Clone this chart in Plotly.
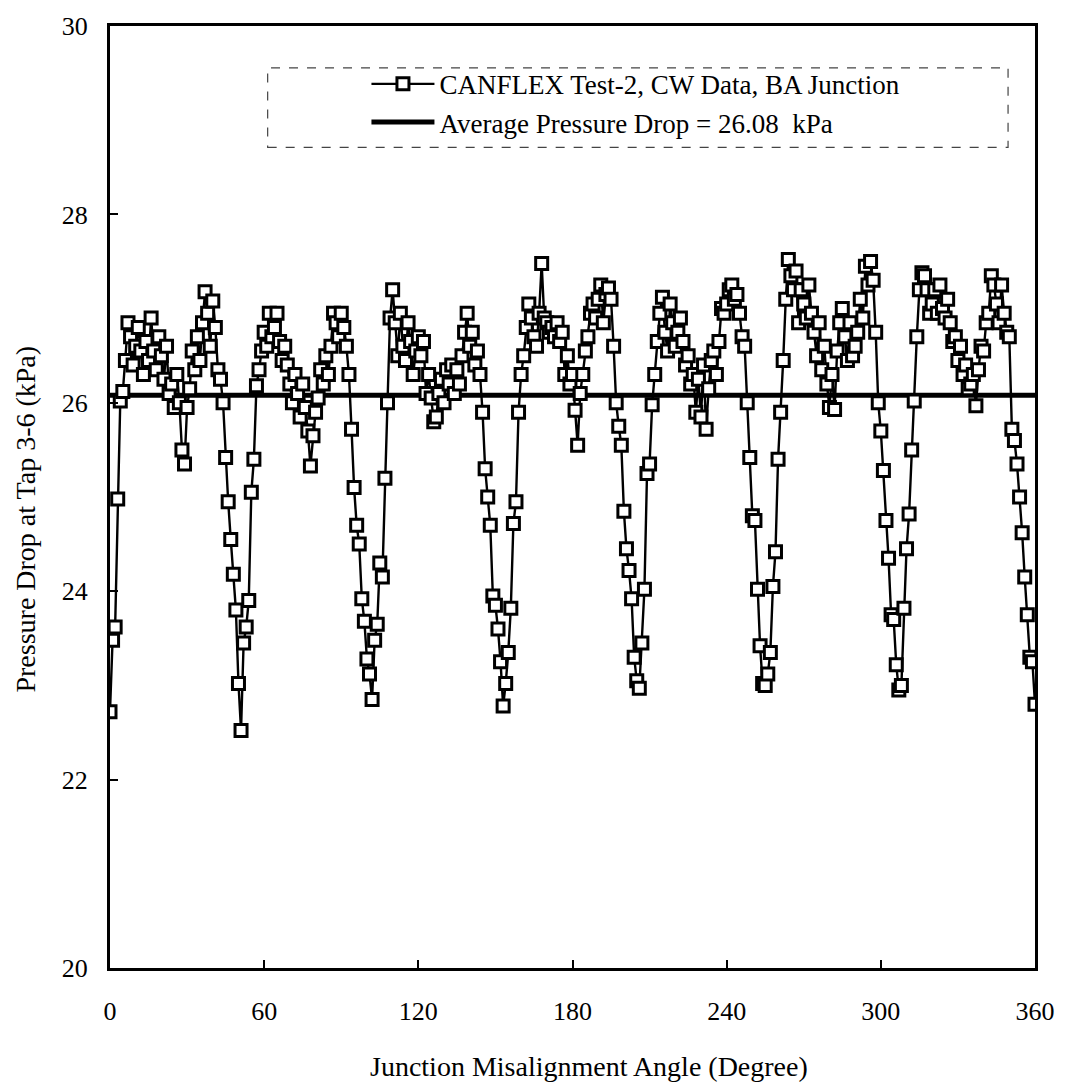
import plotly.graph_objects as go

# Junction misalignment angle, sampled every degree over one full turn
ANGLE_DEG = list(range(0, 361))

# Measured pressure drop at tap 3-6 (kPa), CANFLEX Test-2, CW data, BA junction
PRESSURE_KPA = [
    22.72, 23.48, 23.62, 24.98, 26.02, 26.12, 26.45, 26.85, 26.70, 26.40,
    26.60, 26.80, 26.55, 26.30, 26.65, 26.45, 26.90, 26.55, 26.35, 26.70,
    26.50, 26.25, 26.60, 26.10, 26.20, 25.95, 26.30, 26.00, 25.50, 25.35,
    25.95, 26.15, 26.55, 26.35, 26.70, 26.45, 26.85, 27.18, 26.95, 26.60,
    27.08, 26.80, 26.35, 26.25, 26.00, 25.42, 24.95, 24.55, 24.18, 23.80,
    23.02, 22.52, 23.45, 23.62, 23.90, 25.05, 25.40, 26.18, 26.35, 26.55,
    26.75, 26.60, 26.95, 26.70, 26.80, 26.95, 26.65, 26.45, 26.60, 26.40,
    26.20, 26.00, 26.30, 26.10, 25.85, 26.20, 25.95, 25.70, 25.33, 25.65,
    25.90, 26.05, 26.35, 26.20, 26.50, 26.30, 26.60, 26.95, 26.85, 26.70,
    26.95, 26.80, 26.60, 26.30, 25.72, 25.10, 24.70, 24.50, 23.92, 23.68,
    23.28, 23.12, 22.85, 23.48, 23.65, 24.30, 24.15, 25.20, 26.00, 26.90,
    27.20, 26.85, 26.50, 26.95, 26.60, 26.45, 26.85, 26.65, 26.30, 26.55,
    26.70, 26.50, 26.65, 26.10, 26.30, 26.05, 25.80, 25.85, 26.10, 26.25,
    26.00, 26.35, 26.20, 26.40, 26.10, 26.35, 26.20, 26.50, 26.75, 26.95,
    26.60, 26.75, 26.40, 26.55, 26.30, 25.90, 25.30, 25.00, 24.70, 23.95,
    23.85, 23.60, 23.25, 22.78, 23.02, 23.35, 23.82, 24.72, 24.95, 25.90,
    26.30, 26.50, 26.80, 27.05, 26.90, 26.70, 26.60, 26.95, 27.48, 26.90,
    26.85, 26.75, 26.80, 26.70, 26.85, 26.65, 26.75, 26.30, 26.50, 26.20,
    26.30, 25.92, 25.55, 26.10, 26.30, 26.55, 26.70, 26.95, 27.05, 26.90,
    27.10, 27.25, 26.85, 27.15, 27.22, 27.10, 26.60, 26.00, 25.75, 25.55,
    24.85, 24.45, 24.22, 23.92, 23.30, 23.05, 22.97, 23.45, 24.02, 25.25,
    25.35, 25.98, 26.30, 26.65, 26.95, 27.12, 26.75, 26.55, 27.05, 26.85,
    26.60, 26.75, 26.90, 26.65, 26.40, 26.50, 26.20, 26.30, 25.90, 26.25,
    25.85, 26.40, 25.72, 26.15, 26.45, 26.55, 26.30, 26.65, 27.00, 26.95,
    27.05, 27.20, 27.25, 27.10, 27.15, 26.95, 26.70, 26.60, 26.00, 25.42,
    24.80, 24.75, 24.02, 23.42, 23.02, 23.00, 23.12, 23.35, 24.05, 24.42,
    25.40, 25.90, 26.45, 27.10, 27.52, 27.35, 27.20, 27.40, 26.85, 27.20,
    27.05, 26.90, 27.25, 26.95, 26.75, 26.50, 26.85, 26.35, 26.60, 26.20,
    25.95, 26.30, 25.93, 26.55, 26.85, 27.00, 26.70, 26.45, 26.85, 26.50,
    26.60, 26.75, 27.10, 26.90, 27.45, 27.25, 27.50, 27.30, 26.75, 26.00,
    25.70, 25.28, 24.75, 24.35, 23.75, 23.70, 23.22, 22.95, 23.00, 23.82,
    24.45, 24.82, 25.50, 26.02, 26.70, 27.20, 27.38, 27.35, 27.20, 26.95,
    27.05, 27.20, 26.95, 27.25, 27.00, 26.90, 27.10, 26.85, 26.65, 26.70,
    26.45, 26.60, 26.30, 26.40, 26.15, 26.20, 26.30, 25.97, 26.35, 26.60,
    26.55, 26.85, 26.95, 27.35, 27.25, 27.05, 26.85, 27.25, 26.95, 26.75,
    26.70, 25.72, 25.60, 25.35, 25.00, 24.62, 24.15, 23.75, 23.30, 23.25,
    22.80,
]

AVERAGE_KPA = 26.08
X_RANGE = [0, 360]
X_TICKS = [0, 60, 120, 180, 240, 300, 360]
Y_RANGE = [20, 30]
Y_TICKS = [20, 22, 24, 26, 28, 30]

SERIES_NAME = "CANFLEX Test-2, CW Data, BA Junction"
AVERAGE_NAME = f"Average Pressure Drop = {AVERAGE_KPA:.2f}  kPa"
X_TITLE = "Junction Misalignment Angle (Degree)"
Y_TITLE = "Pressure Drop at Tap 3-6 (kPa)"

FONT = "Liberation Serif"

fig = go.Figure()

# Average pressure drop, drawn across the full angle range
fig.add_trace(go.Scatter(
    x=X_RANGE,
    y=[AVERAGE_KPA, AVERAGE_KPA],
    mode="lines",
    name=AVERAGE_NAME,
    line=dict(color="black", width=5),
    legendgroup="avg",
    legendrank=2,
))

# Measured data: open squares joined by a line
fig.add_trace(go.Scatter(
    x=ANGLE_DEG,
    y=PRESSURE_KPA,
    mode="lines+markers",
    name=SERIES_NAME,
    line=dict(color="black", width=2.4),
    marker=dict(symbol="square", size=12, color="white",
                line=dict(color="black", width=3)),
    legendgroup="data",
    legendrank=1,
))

W, H = 1067, 1082
ML, MR, MT, MB = 110, 30, 21, 114
PW, PH = W - ML - MR, H - MT - MB


def px_to_paper(px, py):
    return (px - ML) / PW, (H - MB - py) / PH


# dashed frame around the legend
lx0, ly0 = px_to_paper(268, 63)
lx1, ly1 = px_to_paper(1010, 143)
fig.add_shape(type="rect", xref="paper", yref="paper",
              x0=lx0, y0=ly1, x1=lx1, y1=ly0,
              line=dict(color="#444444", width=1.2, dash="dash"),
              fillcolor="rgba(0,0,0,0)", layer="above")

legx, legy = px_to_paper(367, 55)
ytx, yty = px_to_paper(25, 517)
xtx, xty = px_to_paper(590, 1067)

fig.update_layout(
    width=W, height=H,
    margin=dict(l=ML, r=MR, t=MT, b=MB, pad=0),
    paper_bgcolor="white",
    plot_bgcolor="white",
    font=dict(family=FONT, size=26, color="black"),
    showlegend=True,
    legend=dict(
        x=legx, y=legy, xanchor="left", yanchor="top",
        bgcolor="rgba(0,0,0,0)", borderwidth=0,
        font=dict(family=FONT, size=27, color="black"),
        itemwidth=63, tracegroupgap=0,
    ),
    xaxis=dict(
        range=X_RANGE, tickvals=X_TICKS, ticktext=[str(v) for v in X_TICKS],
        showgrid=False, zeroline=False,
        showline=True, linecolor="black", linewidth=3, mirror=True,
        ticks="inside", ticklen=8, tickwidth=2, tickcolor="black",
        ticklabelstandoff=18,
        tickfont=dict(family=FONT, size=26, color="black"),
    ),
    yaxis=dict(
        range=Y_RANGE, tickvals=Y_TICKS, ticktext=[str(v) for v in Y_TICKS],
        showgrid=False, zeroline=False,
        showline=True, linecolor="black", linewidth=3, mirror=True,
        ticks="inside", ticklen=8, tickwidth=2, tickcolor="black",
        ticklabelstandoff=14,
        tickfont=dict(family=FONT, size=26, color="black"),
    ),
    annotations=[
        dict(text=X_TITLE, xref="paper", yref="paper", x=xtx, y=xty,
             xanchor="center", yanchor="middle", showarrow=False,
             font=dict(family=FONT, size=28, color="black")),
        dict(text=Y_TITLE, xref="paper", yref="paper", x=ytx, y=yty,
             xanchor="center", yanchor="middle", showarrow=False, textangle=-90,
             font=dict(family=FONT, size=28, color="black")),
    ],
)

fig.write_html("out.html")
